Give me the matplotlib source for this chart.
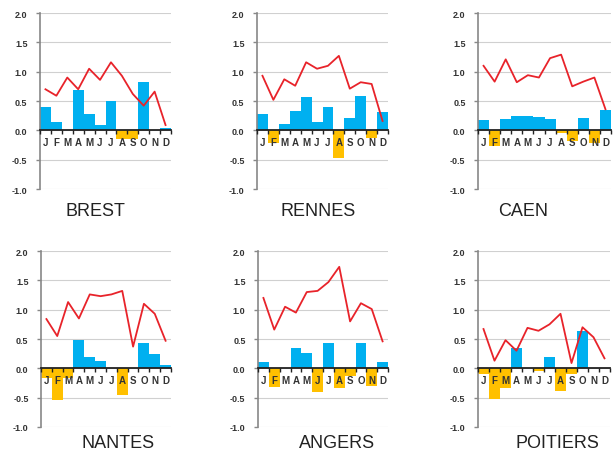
import numpy as np
import matplotlib
matplotlib.use("Agg")
import matplotlib.pyplot as plt

months = ["J", "F", "M", "A", "M", "J", "J", "A", "S", "O", "N", "D"]
cities = ["BREST", "RENNES", "CAEN", "NANTES", "ANGERS", "POITIERS"]

brest_bars = [0.40, 0.14, 0.0, 0.69, 0.28, 0.09, 0.50, -0.14, -0.14, 0.83, 0.0, 0.035]
brest_line = [0.70, 0.59, 0.90, 0.70, 1.05, 0.86, 1.16, 0.93, 0.62, 0.42, 0.66, 0.09]
rennes_bars = [0.27, -0.22, 0.10, 0.33, 0.56, 0.14, 0.39, -0.47, 0.21, 0.59, -0.13, 0.32]
rennes_line = [0.93, 0.52, 0.87, 0.76, 1.16, 1.05, 1.10, 1.27, 0.71, 0.82, 0.79, 0.16]
caen_bars = [0.18, -0.27, 0.19, 0.24, 0.24, 0.22, 0.20, -0.04, -0.18, 0.21, -0.22, 0.34]
caen_line = [1.10, 0.83, 1.21, 0.82, 0.94, 0.90, 1.23, 1.29, 0.75, 0.83, 0.90, 0.36]
nantes_bars = [-0.17, -0.54, -0.17, 0.48, 0.20, 0.13, 0.0, -0.45, 0.0, 0.44, 0.25, 0.06]
nantes_line = [0.84, 0.55, 1.13, 0.85, 1.26, 1.23, 1.26, 1.32, 0.37, 1.10, 0.93, 0.47]
angers_bars = [0.10, -0.31, 0.0, 0.34, 0.26, -0.41, 0.44, -0.34, -0.13, 0.43, -0.30, 0.11]
angers_line = [1.20, 0.66, 1.05, 0.95, 1.30, 1.32, 1.47, 1.73, 0.80, 1.11, 1.01, 0.46]
poitiers_bars = [-0.10, -0.52, -0.34, 0.34, 0.0, -0.04, 0.19, -0.39, -0.10, 0.64, 0.0, 0.0]
poitiers_line = [0.67, 0.13, 0.48, 0.30, 0.69, 0.64, 0.75, 0.93, 0.09, 0.70, 0.53, 0.17]

bars = [brest_bars, rennes_bars, caen_bars, nantes_bars, angers_bars, poitiers_bars]
lines = [brest_line, rennes_line, caen_line, nantes_line, angers_line, poitiers_line]

W, H = 616, 456
# axes boxes in pixels: (left, top, right, bottom)
boxes = [(40, 14, 171, 190), (257, 14, 388, 190), (478, 14, 611, 190),
         (41, 252, 171, 428), (258, 252, 388, 428), (478, 252, 610, 428)]
titles_pos = [(95, 211), (318, 211), (523, 211),
              (118, 444), (337, 444), (557, 444)]

BLUE = "#00B0F0"
ORANGE = "#FFC000"
RED = "#E8232A"

plt.rcParams['font.family'] = ['Liberation Sans', 'DejaVu Sans']

fig = plt.figure(figsize=(W / 100, H / 100), dpi=100)
fig.patch.set_facecolor("white")

x = np.arange(len(months))
for i, city in enumerate(cities):
    l, t, r, b = boxes[i]
    ax = fig.add_axes([l / W, 1 - b / H, (r - l) / W, (b - t) / H])
    vals = np.array(bars[i])
    colors = [BLUE if v >= 0 else ORANGE for v in vals]
    ax.bar(x, vals, width=1.0, color=colors, zorder=2)
    ax.plot(x, lines[i], color=RED, lw=1.3, zorder=3)

    ax.set_xlim(-0.5, 11.5)
    ax.set_ylim(-1.0, 2.0)
    ax.set_yticks(np.arange(-1.0, 2.01, 0.5))
    ax.set_yticklabels([f"{v:.1f}" for v in np.arange(-1.0, 2.01, 0.5)],
                       fontsize=6.5, fontweight="bold", color="#333333")
    ax.grid(axis="y", color="#d0d0d0", lw=0.8)
    ax.set_axisbelow(True)
    # month labels sit on top of the bars, like the Excel original
    ax.xaxis.set_zorder(5)

    for s in ["top", "right"]:
        ax.spines[s].set_visible(False)
    ax.spines["left"].set_color("#888888")
    ax.spines["left"].set_linewidth(1.2)
    ax.spines["bottom"].set_position(("data", 0))
    ax.spines["bottom"].set_color("#222222")
    ax.spines["bottom"].set_linewidth(1.3)
    ax.spines["bottom"].set_zorder(4)

    ax.set_xticks(x)
    ax.set_xticklabels(months, fontsize=7, fontweight="bold", color="#333333")
    ax.set_xticks(np.arange(-0.5, 12, 1.0), minor=True)
    ax.tick_params(axis="x", which="major", length=0, pad=5)
    ax.tick_params(axis="x", which="minor", length=3, width=1, color="#222222",
                   direction="out")
    ax.tick_params(axis="y", length=3, width=1, color="#888888", pad=6)

    tx, ty = titles_pos[i]
    fig.text(tx / W, 1 - ty / H, city, ha="center", va="center",
             fontsize=13, color="#222222")

fig.savefig("out.png", dpi=100)
